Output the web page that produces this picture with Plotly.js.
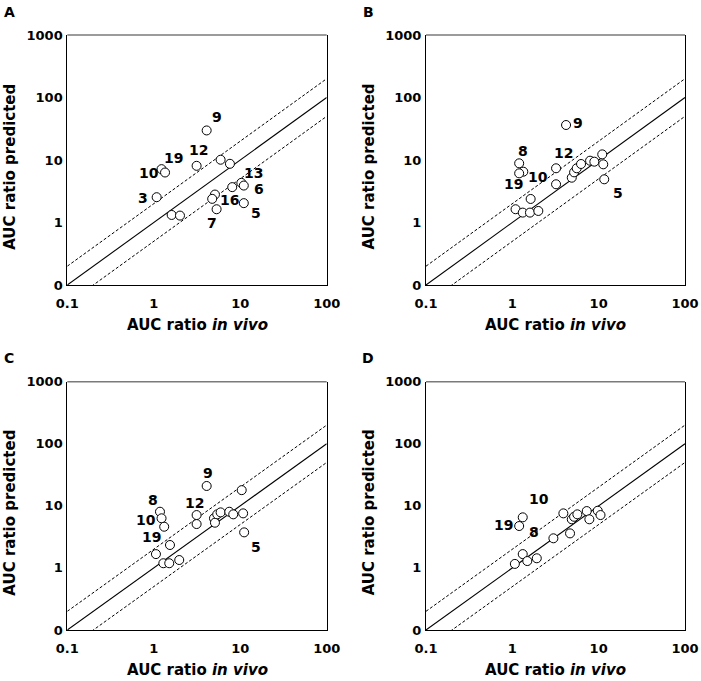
<!DOCTYPE html>
<html>
<head>
<meta charset="utf-8">
<script src="https://cdn.plot.ly/plotly-3.0.1.min.js"></script>
<style>html,body{margin:0;padding:0;background:#fff;}#chart{width:701px;height:681px;}</style>
</head>
<body>
<div id="chart"></div>
<script>
// ---- data (AUC ratio in vivo vs predicted) ----
var aX = [4.09, 3.13, 5.93, 7.6, 1.23, 1.35, 1.08, 1.61, 2.01, 8.08, 10.3, 11.0, 5.1, 4.74, 5.33, 11.0];
var aY = [29.7, 8.07, 10.1, 8.69, 7.14, 6.31, 2.54, 1.32, 1.29, 3.68, 4.31, 3.90, 2.8, 2.39, 1.63, 2.04];
var bX = [4.19, 1.20, 1.34, 1.20, 3.21, 3.21, 1.63, 1.09, 1.32, 1.60, 2.0, 4.88, 5.19, 5.57, 6.25, 7.95, 8.91, 11.0, 11.3, 11.6];
var bY = [36.3, 8.85, 6.5, 6.12, 7.37, 4.09, 2.38, 1.63, 1.44, 1.44, 1.53, 5.21, 6.35, 7.37, 8.63, 9.75, 9.4, 12.3, 8.53, 4.91];
var cX = [4.09, 1.18, 1.23, 1.32, 3.13, 3.13, 1.54, 1.06, 1.29, 1.51, 1.97, 4.97, 5.1, 5.42, 5.93, 7.47, 8.3, 10.4, 10.8, 11.1];
var cY = [20.9, 8.04, 6.3, 4.61, 7.11, 5.09, 2.34, 1.67, 1.19, 1.19, 1.34, 6.3, 5.35, 7.3, 7.85, 8.04, 7.3, 17.9, 7.57, 3.74];
var dX = [1.32, 1.20, 3.9, 4.88, 5.19, 5.66, 7.28, 7.8, 9.76, 10.5, 2.99, 4.66, 1.32, 1.07, 1.49, 1.92];
var dY = [6.53, 4.73, 7.57, 6.07, 6.67, 7.3, 8.24, 6.07, 8.34, 7.11, 3.0, 3.6, 1.67, 1.16, 1.29, 1.43];

// point labels (drug numbers)
var aLab = ["9", "12", "19", "10", "3", "13", "6", "16", "5", "7"];
var aLX = [5.33, 3.27, 1.71, 0.887, 0.756, 14.1, 16.6, 7.47, 15.1, 4.71];
var aLY = [48.7, 14.2, 10.8, 6.17, 2.45, 6.17, 3.42, 2.30, 1.44, 0.975];
var bLab = ["9", "8", "12", "10", "19", "5"];
var bLX = [5.82, 1.34, 3.9, 2.0, 1.03, 16.9];
var bLY = [39.5, 14.1, 12.8, 5.4, 4.09, 2.93];
var cLab = ["9", "8", "12", "10", "19", "5"];
var cLX = [4.27, 0.987, 2.94, 0.813, 0.946, 15.1];
var cLY = [34.1, 12.4, 11.0, 5.9, 3.18, 2.15];
var dLab = ["10", "19", "8"];
var dLX = [2.06, 0.80, 1.78];
var dLY = [12.7, 4.91, 3.83];

// axes ticks
var xTickVals = [0.1, 1, 10, 100];
var xTickText = ["0.1", "1", "10", "100"];
var yTickVals = [0.1, 1, 10, 100, 1000];
var yTickText = ["0", "1", "10", "100", "1000"];

// reference lines: unity, 2-fold above and below
var lineX = [0.1, 100];
var foldRatios = [1, 2, 0.5];

var panelLetters = ["A", "B", "C", "D"];
var xTitle = "AUC ratio <i>in vivo</i>";
var yTitle = "AUC ratio predicted";

// ---- build ----
var FONT = "'DejaVu Sans', sans-serif";
var panels = [
  {x: aX, y: aY, lab: aLab, lx: aLX, ly: aLY},
  {x: bX, y: bY, lab: bLab, lx: bLX, ly: bLY},
  {x: cX, y: cY, lab: cLab, lx: cLX, ly: cLY},
  {x: dX, y: dY, lab: dLab, lx: dLX, ly: dLY}
];
var W = 701, H = 681;
var boxes = [
  {l: 67.3, r: 326.7, t: 35, b: 285},
  {l: 426, r: 685, t: 35, b: 285},
  {l: 67.3, r: 326.7, t: 381.7, b: 630},
  {l: 426, r: 685, t: 381.7, b: 630}
];

var traces = [];
var layout = {
  width: W, height: H,
  margin: {l: 0, r: 0, t: 0, b: 0},
  paper_bgcolor: "#fff", plot_bgcolor: "#fff",
  showlegend: false,
  font: {family: FONT, color: "#000"},
  annotations: [],
  shapes: []
};

panels.forEach(function (p, i) {
  var n = i === 0 ? "" : String(i + 1);
  var xa = "x" + n, ya = "y" + n;
  var bx = boxes[i];
  // reference lines
  foldRatios.forEach(function (f) {
    traces.push({
      type: "scatter", mode: "lines", xaxis: xa, yaxis: ya,
      x: lineX, y: lineX.map(function (v) { return v * f; }),
      line: {color: "#000", width: f === 1 ? 1.1 : 1, dash: f === 1 ? "solid" : "3px,2px"},
      hoverinfo: "skip"
    });
  });
  traces.push({
    type: "scatter", mode: "markers", xaxis: xa, yaxis: ya,
    x: p.x, y: p.y,
    marker: {symbol: "circle", size: 9, color: "#fff", line: {color: "#000", width: 1}},
    cliponaxis: false
  });
  layout["xaxis" + n] = {
    type: "log", range: [-1, 2], domain: [bx.l / W, bx.r / W], anchor: ya,
    tickvals: xTickVals, ticktext: xTickText,
    ticks: "outside", ticklen: 6, tickcolor: "rgba(0,0,0,0)",
    tickfont: {family: FONT, size: 13, weight: "bold", color: "#000"},
    showline: true, linecolor: "#000", linewidth: 1, mirror: false,
    showgrid: false, zeroline: false, fixedrange: true
  };
  layout["yaxis" + n] = {
    type: "log", range: [-1, 3], domain: [1 - bx.b / H, 1 - bx.t / H], anchor: xa,
    tickvals: yTickVals, ticktext: yTickText,
    ticks: "outside", ticklen: 1, tickcolor: "rgba(0,0,0,0)",
    tickfont: {family: FONT, size: 13, weight: "bold", color: "#000"},
    showline: true, linecolor: "#000", linewidth: 1, mirror: true,
    showgrid: false, zeroline: false, fixedrange: true
  };
  // gray top border
  layout.shapes.push({
    type: "line", xref: xa + " domain", yref: ya + " domain",
    x0: 0, x1: 1, y0: 1, y1: 1, line: {color: "#7a7a7a", width: 1.5}
  });
  // point labels
  p.lab.forEach(function (t, k) {
    layout.annotations.push({
      xref: xa, yref: ya, x: Math.log10(p.lx[k]), y: Math.log10(p.ly[k]),
      text: t, showarrow: false, xanchor: "center", yanchor: "middle",
      font: {family: FONT, size: 14, weight: "bold", color: "#000"}
    });
  });
  var cx = (bx.l + bx.r) / 2;
  // x title
  layout.annotations.push({
    xref: "paper", yref: "paper", x: cx / W, y: 1 - (bx.b + 40) / H,
    text: xTitle, showarrow: false, xanchor: "center", yanchor: "middle",
    font: {family: FONT, size: 15, weight: "bold", color: "#000"}
  });
  // y title
  layout.annotations.push({
    xref: "paper", yref: "paper", x: (bx.l - 57.5) / W, y: 1 - ((bx.t + bx.b) / 2 + 7) / H,
    text: yTitle, showarrow: false, textangle: -90, xanchor: "center", yanchor: "middle",
    font: {family: FONT, size: 15, weight: "bold", color: "#000"}
  });
  // panel letter
  layout.annotations.push({
    xref: "paper", yref: "paper", x: (bx.l - 58) / W, y: 1 - (bx.t - 23.5) / H,
    text: panelLetters[i], showarrow: false, xanchor: "center", yanchor: "middle",
    font: {family: FONT, size: 14, weight: "bold", color: "#000"}
  });
});

Plotly.newPlot("chart", traces, layout, {displayModeBar: false, staticPlot: true});
</script>
</body>
</html>
